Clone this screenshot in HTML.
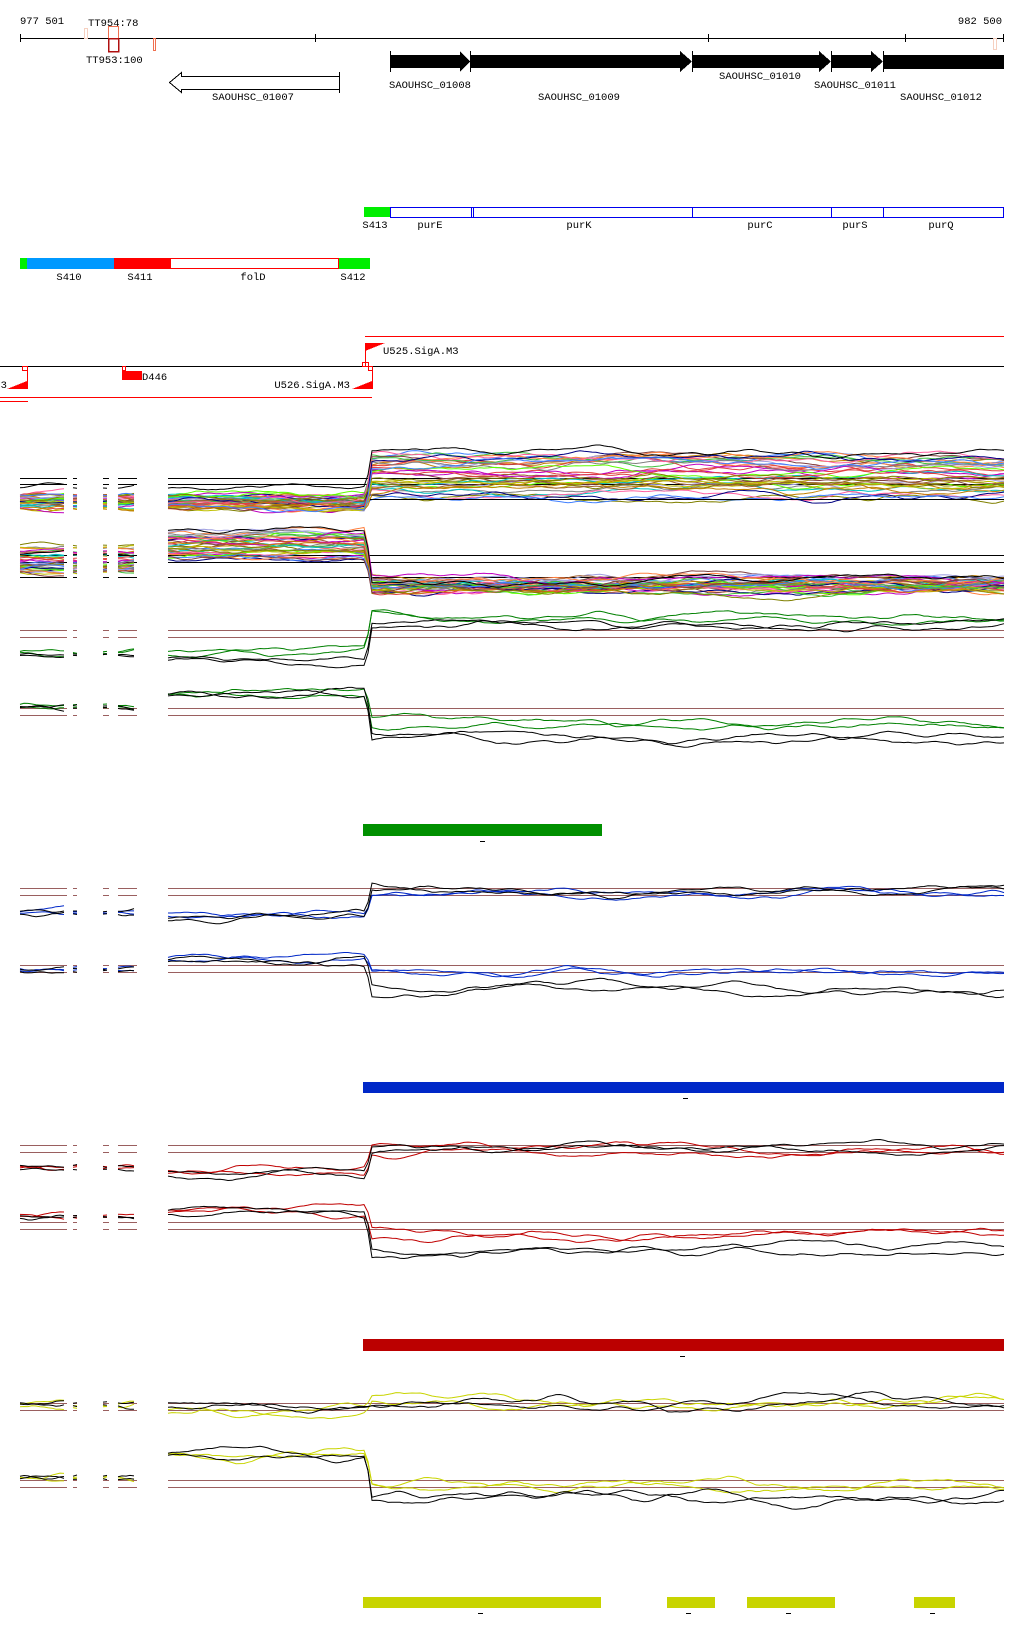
<!DOCTYPE html>
<html><head><meta charset="utf-8"><style>
html,body{margin:0;padding:0;background:#fff;width:1024px;height:1640px;overflow:hidden}
svg text{font-family:"Liberation Mono","DejaVu Sans Mono",monospace;font-size:10.5px;fill:#000}
</style></head><body>
<svg id="s" width="1024" height="1640" xmlns="http://www.w3.org/2000/svg" shape-rendering="crispEdges">
<line x1="20" y1="38.5" x2="1004" y2="38.5" stroke="#000"/>
<g stroke="#000"><line x1="20.5" y1="34" x2="20.5" y2="42"/><line x1="315.5" y1="34" x2="315.5" y2="42"/><line x1="708.5" y1="34" x2="708.5" y2="42"/><line x1="905.5" y1="34" x2="905.5" y2="42"/><line x1="1003.5" y1="34" x2="1003.5" y2="42"/></g>
<text x="20" y="24">977 501</text>
<text x="1002" y="24" text-anchor="end">982 500</text>
<text x="88" y="26">TT954:78</text>
<text x="86" y="63">TT953:100</text>
<rect x="84.5" y="28.5" width="3" height="10" fill="none" stroke="#f6d0c0"/>
<rect x="108.5" y="26.5" width="10" height="12" fill="none" stroke="#f07050"/>
<rect x="108.5" y="38.5" width="10" height="13" fill="none" stroke="#b01010" stroke-width="1.5"/>
<rect x="153.5" y="38.5" width="2" height="12" fill="none" stroke="#f07050"/>
<rect x="993.5" y="38.5" width="3" height="11" fill="none" stroke="#f6d0c0"/>
<g fill="#000">
<rect x="390" y="55" width="72" height="13"/><polygon points="460,51 470,61.5 460,72"/>
<rect x="470" y="55" width="212" height="13"/><polygon points="680,51 692,61.5 680,72"/>
<rect x="692" y="55" width="128" height="13"/><polygon points="819,51 831,61.5 819,72"/>
<rect x="831" y="55" width="42" height="13"/><polygon points="871,51 883,61.5 871,72"/>
<rect x="883" y="55" width="121" height="14"/>
</g>
<g stroke="#000"><line x1="390.5" y1="51" x2="390.5" y2="72"/><line x1="470.5" y1="51" x2="470.5" y2="72"/><line x1="692.5" y1="51" x2="692.5" y2="72"/><line x1="831.5" y1="51" x2="831.5" y2="72"/><line x1="883.5" y1="51" x2="883.5" y2="72"/></g>
<polygon points="339.5,76.5 181.5,76.5 181.5,72.5 169.5,82.5 181.5,92.5 181.5,89.5 339.5,89.5" fill="none" stroke="#000"/>
<line x1="339.5" y1="72" x2="339.5" y2="93" stroke="#000"/>
<text x="430" y="88" text-anchor="middle">SAOUHSC_01008</text>
<text x="579" y="100" text-anchor="middle">SAOUHSC_01009</text>
<text x="760" y="79" text-anchor="middle">SAOUHSC_01010</text>
<text x="855" y="88" text-anchor="middle">SAOUHSC_01011</text>
<text x="941" y="100" text-anchor="middle">SAOUHSC_01012</text>
<text x="253" y="100" text-anchor="middle">SAOUHSC_01007</text>
<rect x="364" y="207" width="26" height="10" fill="#00ee00"/>
<rect x="390.5" y="207.5" width="613" height="10" fill="none" stroke="#0000ee"/>
<g stroke="#0000ee"><line x1="471.5" y1="207" x2="471.5" y2="218"/><line x1="473.5" y1="207" x2="473.5" y2="218"/><line x1="692.5" y1="207" x2="692.5" y2="218"/><line x1="831.5" y1="207" x2="831.5" y2="218"/><line x1="883.5" y1="207" x2="883.5" y2="218"/></g>
<text x="375" y="228" text-anchor="middle">S413</text>
<text x="430" y="228" text-anchor="middle">purE</text>
<text x="579" y="228" text-anchor="middle">purK</text>
<text x="760" y="228" text-anchor="middle">purC</text>
<text x="855" y="228" text-anchor="middle">purS</text>
<text x="941" y="228" text-anchor="middle">purQ</text>
<rect x="20" y="258" width="7" height="11" fill="#00ee00"/>
<rect x="27" y="258" width="87" height="11" fill="#0099ff"/>
<rect x="114" y="258" width="56" height="11" fill="#ff0000"/>
<rect x="170.5" y="258.5" width="168" height="10" fill="none" stroke="#ff0000"/>
<rect x="339" y="258" width="31" height="11" fill="#00ee00"/>
<text x="69" y="280" text-anchor="middle">S410</text>
<text x="140" y="280" text-anchor="middle">S411</text>
<text x="253" y="280" text-anchor="middle">folD</text>
<text x="353" y="280" text-anchor="middle">S412</text>
<line x1="365" y1="336.5" x2="1004" y2="336.5" stroke="#ff0000"/>
<line x1="0" y1="366.5" x2="1004" y2="366.5" stroke="#000"/>
<g fill="#ff0000">
<polygon points="365,343 385,343 365,351"/>
<polygon points="7,389 27,381 27,389"/>
<polygon points="352,389 372,381 372,389"/>
<rect x="122" y="371" width="20" height="9"/>
</g>
<g stroke="#ff0000" fill="none">
<line x1="365.5" y1="343" x2="365.5" y2="366"/>
<rect x="362.5" y="362.5" width="6" height="4"/><rect x="368.5" y="366.5" width="4" height="4"/>
<line x1="27.5" y1="366" x2="27.5" y2="389"/><rect x="22.5" y="366.5" width="5" height="4"/>
<line x1="372.5" y1="366" x2="372.5" y2="389"/>
<rect x="122.5" y="366.5" width="3" height="4"/>
<line x1="0" y1="397.5" x2="372" y2="397.5"/>
<line x1="0" y1="401.5" x2="28" y2="401.5"/>
</g>
<text x="383" y="354">U525.SigA.M3</text>
<text x="142" y="380">D446</text>
<text x="350" y="388" text-anchor="end">U526.SigA.M3</text>
<text x="7" y="388" text-anchor="end">A.M3</text>
<g id="plots"></g>
<rect x="363" y="824" width="239" height="12" fill="#009000"/>
<rect x="480" y="841" width="5" height="1" fill="#000"/>
<rect x="363" y="1082" width="641" height="11" fill="#0028c8"/>
<rect x="683" y="1098" width="5" height="1" fill="#000"/>
<rect x="363" y="1339" width="641" height="12" fill="#bb0000"/>
<rect x="680" y="1356" width="5" height="1" fill="#000"/>
<g fill="#c8d400"><rect x="363" y="1597" width="238" height="11"/><rect x="667" y="1597" width="48" height="11"/><rect x="747" y="1597" width="88" height="11"/><rect x="914" y="1597" width="41" height="11"/></g>
<g fill="#000"><rect x="478" y="1613" width="5" height="1"/><rect x="686" y="1613" width="5" height="1"/><rect x="786" y="1613" width="5" height="1"/><rect x="930" y="1613" width="5" height="1"/></g>
</svg>
<script>
(function(){
var seed=12345;function r(){seed=(seed*1103515245+12345)%2147483648;return seed/2147483648;}
var g=document.getElementById('plots'),NS='http://www.w3.org/2000/svg';
function el(n,a){var e=document.createElementNS(NS,n);for(var k in a)e.setAttribute(k,a[k]);g.appendChild(e);return e;}
var segs=[[20,67],[73,77],[103,109],[118,137],[168,1004]];
function refs(ys,col){ys.forEach(function(y){segs.forEach(function(s){el('line',{x1:s[0],x2:s[1],y1:y+.5,y2:y+.5,stroke:col});});});}
function line(L,R,col,noise,smallL){
 var d='';
 segs.forEach(function(s,i){
  var off=0,v=0,pts=[];
  for(var x=s[0];x<=s[1];x+=4){
   v=v*0.7+(r()-0.5)*noise;off+=v;off*=0.93;
   var base;
   if(i<4) base=smallL; else base=x<366?L:(x<372?L+(R-L)*(x-366)/6:R);
   pts.push(x+','+(base+off).toFixed(1));
  }
  d+='M'+pts.join(' L');
 });
 el('path',{d:d,fill:'none',stroke:col,'stroke-width':1,'shape-rendering':'auto'});
}
var pal=['#e04040','#c08000','#808000','#4080ff','#a0a0e0','#40c040','#c000c0','#ff8040','#804040','#808080','#00c0c0','#a06030','#ff60a0','#60ff00','#000080','#c0c000'];
refs([478,484],'#000');
for(var i=0;i<36;i++){line(495+r()*14,458+r()*40,pal[i%pal.length],1.5,495+r()*14);}
line(488,453,'#000',1.5,488);
el('line',{x1:370,x2:1004,y1:499.5,y2:499.5,stroke:'#000'});
refs([555,562,577],'#000');
for(var i=0;i<36;i++){line(532+r()*28,579+r()*13,pal[(i+5)%pal.length],1.5,545+r()*28);}
line(531,582,'#000',1.5,555);
var B='#9a5f5f',N=1.6;
refs([630,637],B);
line(652,617,'#008000',N,652);line(655,620,'#008000',N,653);line(658,621,'#000',N,655);line(661,624,'#000',N,654);
refs([708,715],B);
line(693,722,'#008000',N,705);line(695,726,'#008000',N,707);line(694,738,'#000',N,706);line(696,741,'#000',N,708);
refs([888,895],B);
line(913,892,'#0028c8',N,912);line(916,895,'#0028c8',N,913);line(918,889,'#000',N,911);line(920,891,'#000',N,914);
refs([965,972],B);
line(958,971,'#0028c8',N,968);line(960,975,'#0028c8',N,970);line(960,988,'#000',N,969);line(962,991,'#000',N,971);
refs([1145,1152],B);
line(1170,1150,'#c00000',N,1166);line(1173,1153,'#c00000',N,1168);line(1172,1148,'#000',N,1166);line(1176,1151,'#000',N,1169);
refs([1222,1229],B);
line(1210,1233,'#c00000',N,1215);line(1212,1236,'#c00000',N,1217);line(1211,1248,'#000',N,1216);line(1214,1252,'#000',N,1218);
refs([1403,1410],B);
line(1410,1400,'#c8d400',2,1405);line(1413,1403,'#c8d400',2,1407);line(1402,1402,'#000',2,1403);line(1408,1405,'#000',2,1405);
refs([1480,1487],B);
line(1454,1485,'#c8d400',2,1477);line(1455,1488,'#c8d400',2,1479);line(1454,1495,'#000',2,1477);line(1456,1500,'#000',2,1479);
})();
</script>
</body></html>
